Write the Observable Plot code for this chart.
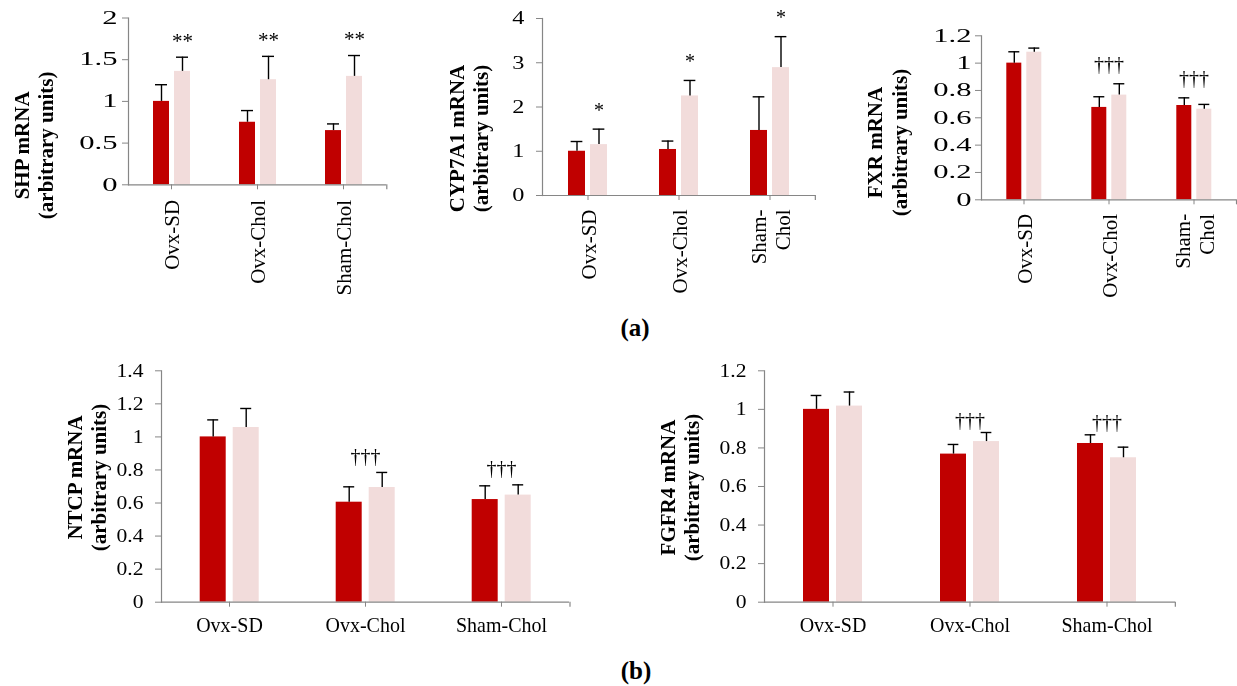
<!DOCTYPE html>
<html><head><meta charset="utf-8">
<script src="https://cdn.jsdelivr.net/npm/d3@7"></script>
<script src="https://cdn.jsdelivr.net/npm/@observablehq/plot@0.6"></script>
<style>
body{margin:0;background:#fff;}
#root{position:relative;width:1237px;height:686px;overflow:hidden;font-family:"Liberation Serif","Times New Roman",serif;color:#000;}
.panel{position:absolute;will-change:transform;}
.cap{position:absolute;font-weight:bold;font-size:25px;transform:translate(-50%,-50%);white-space:nowrap;}
</style></head><body><div id="root"></div>
<script>
// ---- data ----
const groups = ["Ovx-SD", "Ovx-Chol", "Sham-Chol"];
const series = ["s1", "s2"];
const catLabelsOne = ["Ovx-SD", "Ovx-Chol", "Sham-Chol"];
const catLabelsTwo = ["Ovx-SD", "Ovx-Chol", "Sham-\nChol"];

const shpMean1 = [1.00, 0.75, 0.65];
const shpErr1  = [0.20, 0.14, 0.08];
const shpMean2 = [1.36, 1.26, 1.30];
const shpErr2  = [0.17, 0.28, 0.25];
const shpMarks = ["**", "**", "**"];
const shpTicks = [0, 0.5, 1, 1.5, 2];

const cypMean1 = [1.00, 1.04, 1.47];
const cypErr1  = [0.22, 0.19, 0.76];
const cypMean2 = [1.15, 2.25, 2.89];
const cypErr2  = [0.35, 0.35, 0.70];
const cypMarks = ["*", "*", "*"];
const cypTicks = [0, 1, 2, 3, 4];

const fxrMean1 = [1.00, 0.676, 0.690];
const fxrErr1  = [0.083, 0.078, 0.056];
const fxrMean2 = [1.08, 0.766, 0.663];
const fxrErr2  = [0.030, 0.083, 0.035];
const fxrMarks = ["", "†††", "†††"];
const fxrTicks = [0, 0.2, 0.4, 0.6, 0.8, 1, 1.2];

const ntcpMean1 = [1.00, 0.605, 0.621];
const ntcpErr1  = [0.103, 0.093, 0.083];
const ntcpMean2 = [1.057, 0.694, 0.648];
const ntcpErr2  = [0.115, 0.091, 0.062];
const ntcpMarks = ["", "†††", "†††"];
const ntcpTicks = [0, 0.2, 0.4, 0.6, 0.8, 1, 1.2, 1.4];

const fgfMean1 = [1.00, 0.768, 0.823];
const fgfErr1  = [0.072, 0.050, 0.045];
const fgfMean2 = [1.017, 0.833, 0.749];
const fgfErr2  = [0.073, 0.047, 0.055];
const fgfMarks = ["", "†††", "†††"];
const fgfTicks = [0, 0.2, 0.4, 0.6, 0.8, 1, 1.2];

// ---- style ----
const DARK = "#C00000", LIGHT = "#F2DCDB", GRAY = "#868686";

const panels = [
  {title: "SHP mRNA\n(arbitrary units)", m1: shpMean1, e1: shpErr1, m2: shpMean2, e2: shpErr2,
   marks: shpMarks, markMode: "bar", ticks: shpTicks, cats: catLabelsOne,
   left: 0, top: 0, width: 396, height: 300, ml: 128, mr: 10, mt: 17.5, mb: 115.7,
   barW: 16, gap: 5.4, capW: 12, rotate: -90, catPad: 10, catFont: 21, tickFont: 18, sx: 1.7, tickPad: 5,
   tdx: -95.5, tdy: 44, markDy: -16, markFont: 21},
  {title: "CYP7A1 mRNA\n(arbitrary units)", m1: cypMean1, e1: cypErr1, m2: cypMean2, e2: cypErr2,
   marks: cypMarks, markMode: "bar", ticks: cypTicks, cats: catLabelsTwo,
   left: 400, top: 0, width: 425, height: 300, ml: 142, mr: 10, mt: 18, mb: 105,
   barW: 17.3, gap: 5, capW: 12, rotate: -90, catPad: 9, catFont: 21, tickFont: 18, sx: 1.35, tickPad: 12,
   tdx: -74.5, tdy: 31.5, markDy: -19, markFont: 20},
  {title: "FXR mRNA\n(arbitrary units)", m1: fxrMean1, e1: fxrErr1, m2: fxrMean2, e2: fxrErr2,
   marks: fxrMarks, markMode: "group", ticks: fxrTicks, cats: catLabelsTwo,
   left: 830, top: 0, width: 407, height: 300, ml: 150.7, mr: 0, mt: 35.3, mb: 100.7,
   barW: 16, gap: 5, capW: 12, rotate: -90, catPad: 9, catFont: 21, tickFont: 18, sx: 1.7, tickPad: 4,
   tdx: -94.7, tdy: 24.7, markDy: -19, markFont: 20},
  {title: "NTCP mRNA\n(arbitrary units)", m1: ntcpMean1, e1: ntcpErr1, m2: ntcpMean2, e2: ntcpErr2,
   marks: ntcpMarks, markMode: "group", ticks: ntcpTicks, cats: catLabelsOne,
   left: 0, top: 345, width: 580, height: 301.7, ml: 159.3, mr: 10, mt: 25.3, mb: 45,
   barW: 26, gap: 7.3, capW: 11, rotate: 0, catPad: 8, catFont: 20, tickFont: 18, sx: 1.2, tickPad: 12,
   tdx: -75.3, tdy: -9, markDy: -16, markFont: 20},
  {title: "FGFR4 mRNA\n(arbitrary units)", m1: fgfMean1, e1: fgfErr1, m2: fgfMean2, e2: fgfErr2,
   marks: fgfMarks, markMode: "group", ticks: fgfTicks, cats: catLabelsOne,
   left: 620, top: 345, width: 565, height: 301.7, ml: 144, mr: 10, mt: 25.3, mb: 45,
   barW: 26.3, gap: 7, capW: 11, rotate: 0, catPad: 8, catFont: 20, tickFont: 18, sx: 1.2, tickPad: 12,
   tdx: -85, tdy: 1, markDy: -12, markFont: 20}
];

function stretchTicks(svg, sx) {
  svg.querySelectorAll('g[aria-label="y-axis tick label"] text').forEach(t => {
    const tr = t.getAttribute("transform") || "";
    t.setAttribute("transform", tr + ` scale(${sx},1)`);
  });
}

function build(c) {
  const rows = [];
  groups.forEach((g, i) => {
    rows.push({group: g, series: "s1", mean: c.m1[i], err: c.e1[i], mark: ""});
    rows.push({group: g, series: "s2", mean: c.m2[i], err: c.e2[i], mark: c.marks[i]});
  });
  rows.forEach(r => r.top = r.mean + r.err);
  const grows = groups.map((g, i) => ({group: g, mark: c.marks[i],
    top: Math.max(c.m1[i] + c.e1[i], c.m2[i] + c.e2[i])}));

  const F = (c.width - c.ml - c.mr) / 3;
  const step = c.barW + c.gap;
  const pi = c.gap / step;
  const po = (F / step - 2 + pi) / 2;
  const capInset = Math.max(0, (c.barW - c.capW) / 2);
  const yMax = c.ticks[c.ticks.length - 1];
  const pxPerUnit = (c.height - c.mt - c.mb) / yMax;
  const endDx = F - (step * po + step + c.barW / 2);

  const annot = c.markMode === "bar"
    ? Plot.text(rows.filter(r => r.series === "s2"), {fx: "group", x: "series", y: "top", text: "mark",
        dy: c.markDy, fontSize: c.markFont, fill: "#000"})
    : Plot.text(grows, {fx: "group", y: "top", text: "mark", dy: c.markDy, fontSize: c.markFont, fill: "#000"});

  const svg = Plot.plot({
    width: c.width, height: c.height,
    marginLeft: c.ml, marginRight: c.mr, marginTop: c.mt, marginBottom: c.mb,
    style: {fontFamily: '"Liberation Serif","Times New Roman",serif', fontSize: "18px", color: "#000", background: "transparent", overflow: "visible"},
    fx: {domain: groups, padding: 0},
    x: {domain: series, paddingInner: pi, paddingOuter: po, axis: null},
    y: {domain: [0, yMax]},
    color: {domain: series, range: [DARK, LIGHT]},
    marks: [
      Plot.barY(rows, {fx: "group", x: "series", y: "mean", fill: "series"}),
      Plot.ruleX(rows, {fx: "group", x: "series", y1: "mean", y2: "top", stroke: "#000", strokeWidth: 1.4}),
      Plot.tickY(rows, {fx: "group", x: "series", y: "top", stroke: "#000", strokeWidth: 1.4, insetLeft: capInset, insetRight: capInset}),
      Plot.ruleY([0], {stroke: GRAY, strokeWidth: 1.2}),
      Plot.frame({anchor: "left", facetAnchor: "left", stroke: GRAY, strokeWidth: 1.2}),
      Plot.ruleX([{group: groups[2], series: series[1]}], {fx: "group", x: "series", y1: 0, y2: -5 / pxPerUnit,
        dx: endDx, stroke: GRAY, strokeWidth: 1.2}),
      Plot.axisY({ticks: c.ticks, tickFormat: d3.format("~g"), tickSize: 6, tickPadding: c.tickPad,
        stroke: GRAY, fill: "#000", fontSize: c.tickFont, label: null}),
      Plot.axisFx({anchor: "bottom", tickSize: 5, tickPadding: c.catPad, tickRotate: c.rotate,
        tickFormat: g => c.cats[groups.indexOf(g)], fontSize: c.catFont, lineHeight: 1.15,
        stroke: GRAY, fill: "#000", label: null}),
      annot,
      Plot.text([{group: groups[0]}], {fx: "group", frameAnchor: "left", text: () => c.title, rotate: -90,
        textAnchor: "middle", lineAnchor: "middle", dx: c.tdx, dy: c.tdy, fontWeight: "bold",
        fontSize: 21, lineHeight: 1.15, fill: "#000"})
    ]
  });
  stretchTicks(svg, c.sx);
  const div = document.createElement("div");
  div.className = "panel";
  div.style.left = c.left + "px";
  div.style.top = c.top + "px";
  div.appendChild(svg);
  return div;
}

const root = document.getElementById("root");
panels.forEach(c => root.appendChild(build(c)));

const captions = [{text: "(a)", x: 635, y: 328}, {text: "(b)", x: 636, y: 671}];
captions.forEach(k => {
  const d = document.createElement("div");
  d.className = "cap";
  d.textContent = k.text;
  d.style.left = k.x + "px";
  d.style.top = k.y + "px";
  root.appendChild(d);
});
</script>
</body></html>
